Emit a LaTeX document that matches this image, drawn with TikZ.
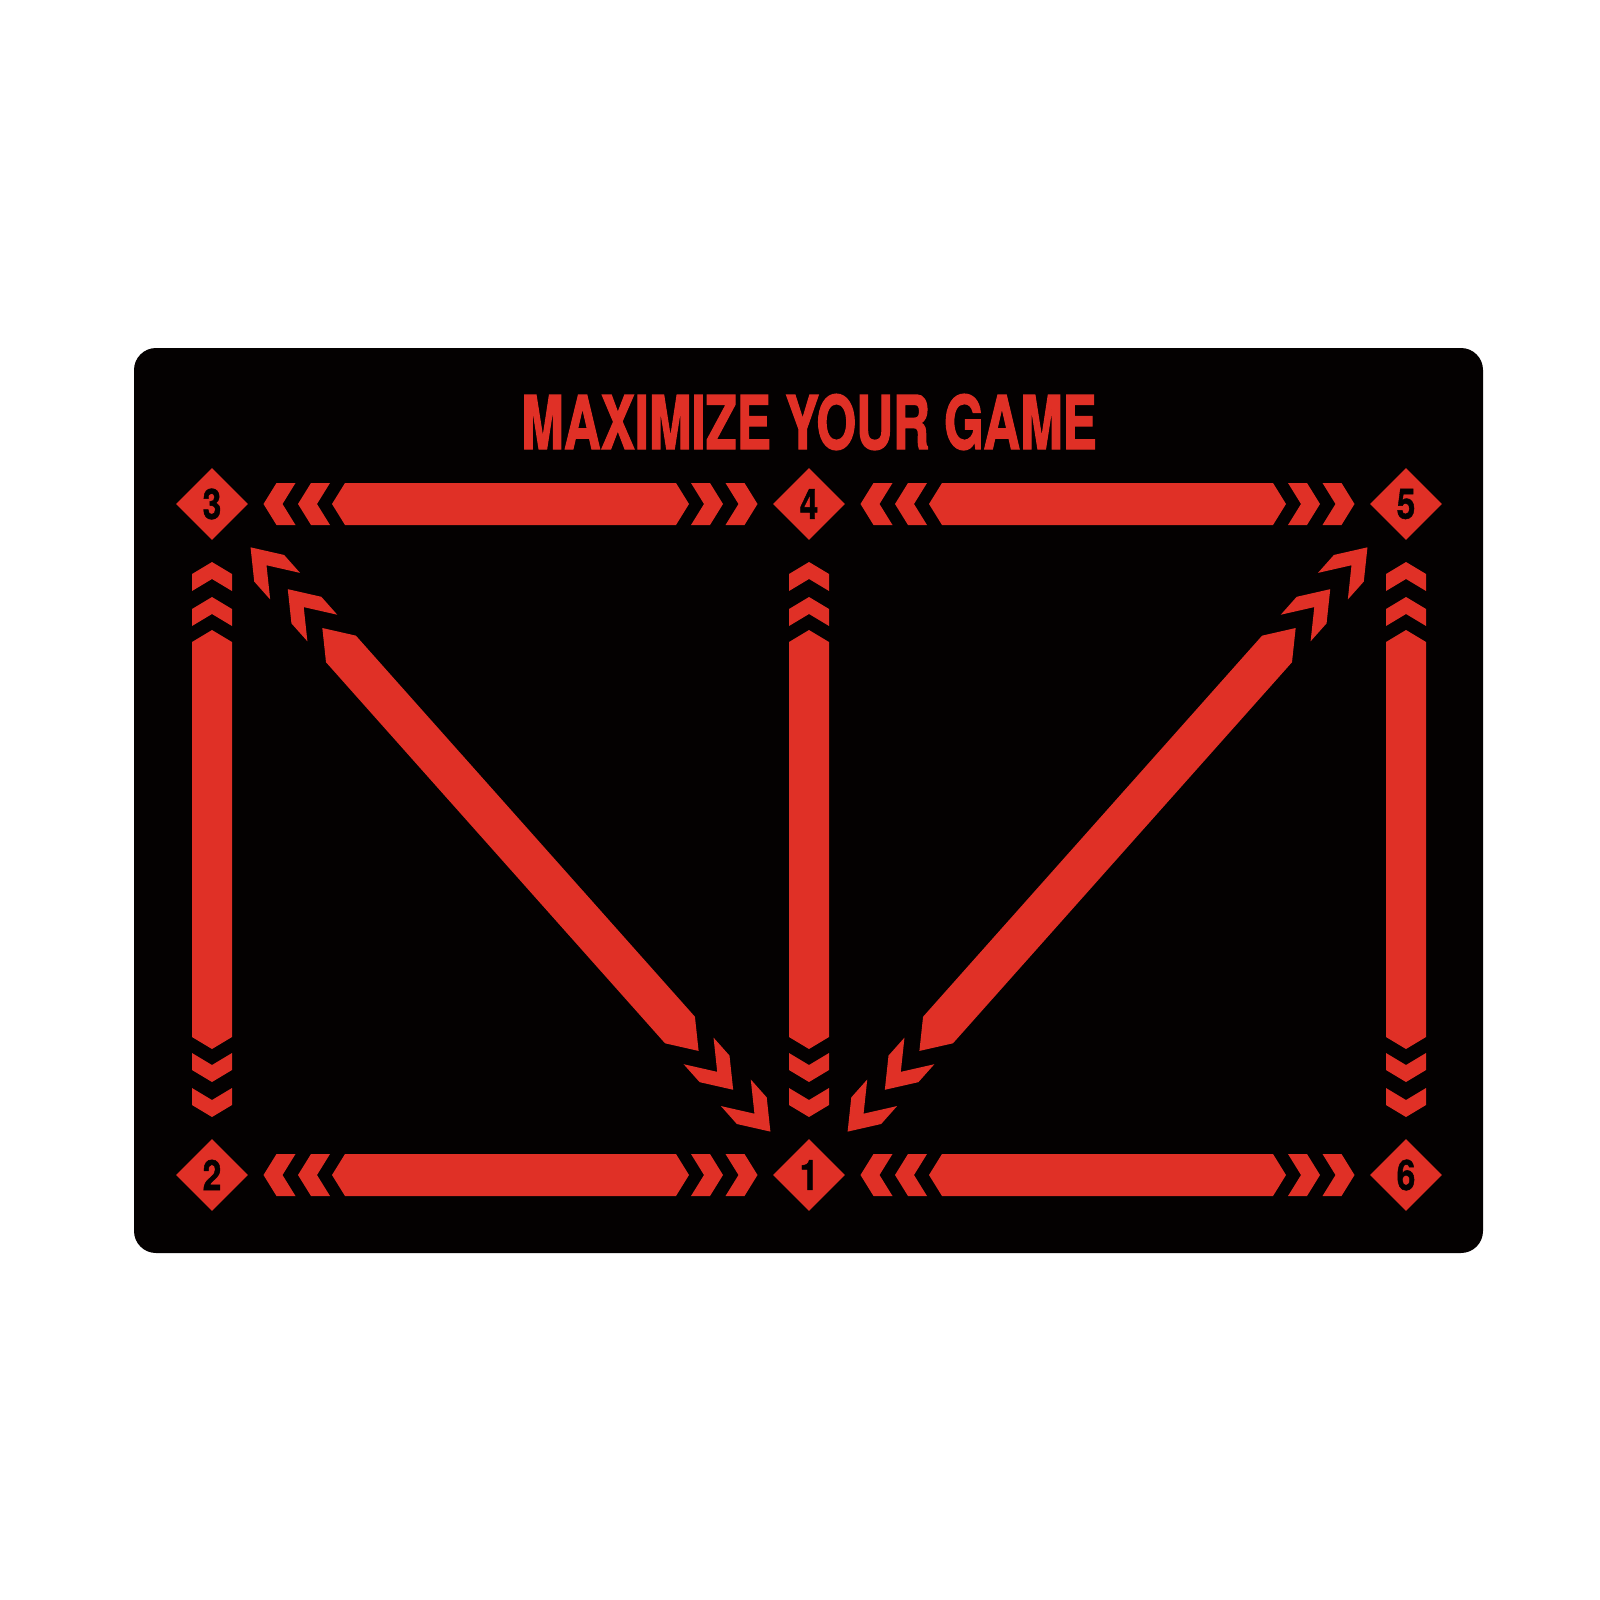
\documentclass[tikz,border=0pt]{standalone}
\usepackage{fontspec}
\usetikzlibrary{shapes.geometric,calc}

\newfontfamily\titlefont{TeX Gyre Heros}[FakeBold=2]
\newfontfamily\numfont{TeX Gyre Heros}[FakeBold=1.2]

\definecolor{matred}{RGB}{224,48,38}
\definecolor{matblack}{RGB}{4,1,1}

\tikzset{
	spot/.style={diamond, aspect=1, fill=matred, minimum width=72pt, minimum height=72pt,
		inner sep=0pt, text=matblack, font=\numfont\bfseries\fontsize{42}{42}\selectfont},
	headline/.style={text=matred, inner sep=0pt, font=\titlefont\bfseries\fontsize{74}{74}\selectfont},
}

% narrow digits
\newcommand\spotnum[1]{\scalebox{0.8}[1]{#1}}

% one chevron pointing back to the start, tip at #1, slope #2, thickness #3, half width #4
\newcommand\chev[4]{\fill[matred] (#1,0) -- (#1+#2,#4) -- (#1+#2+#3,#4) -- (#1+#3,0)
	-- (#1+#2+#3,-#4) -- (#1+#2,-#4) -- cycle;}

% chevron 1, chevron 2, bar tip, slope, thickness, half width
\newcommand\runparams[6]{\def\cA{#1}\def\cB{#2}\def\bT{#3}\def\sA{#4}\def\sT{#5}\def\hW{#6}}

% bar with chevrons at both ends, from spot #1 to spot #2
\newcommand\matrun[2]{%
	\path let \p1=($(#2)-(#1)$) in \pgfextra{\pgfmathsetmacro\runang{atan2(\y1,\x1)}%
		\pgfmathsetmacro\runlen{veclen(\x1,\y1)}\global\let\runang\runang\global\let\runlen\runlen};
	\begin{scope}[shift={(#1)}, rotate=\runang]
		\chev{\cA}{\sA}{\sT}{\hW}
		\chev{\cB}{\sA}{\sT}{\hW}
		\begin{scope}[shift={(\runlen,0)}, xscale=-1]
			\chev{\cA}{\sA}{\sT}{\hW}
			\chev{\cB}{\sA}{\sT}{\hW}
		\end{scope}
		\fill[matred] (\bT,0) -- (\bT+\sA,\hW) -- (\runlen-\bT-\sA,\hW) -- (\runlen-\bT,0)
			-- (\runlen-\bT-\sA,-\hW) -- (\bT+\sA,-\hW) -- cycle;
	\end{scope}}

\begin{document}
\begin{tikzpicture}[x=1pt,y=-1pt]
	\useasboundingbox (0,0) rectangle (1600,1600);
	\fill[white] (0,0) rectangle (1600,1600);

	% the mat
	\fill[matblack, rounded corners=22pt] (134,348) rectangle (1483,1253);

	\node[headline, anchor=base] (title) at (809,449) {\scalebox{0.69}[1]{MAXIMIZE YOUR GAME}};

	% cones
	\node[spot] (d3) at (212,504) {\spotnum{3}};
	\node[spot] (d4) at (809,504) {\spotnum{4}};
	\node[spot] (d5) at (1406,504) {\spotnum{5}};
	\node[spot] (d2) at (212,1175) {\spotnum{2}};
	\node[spot] (d1) at (809,1175) {\spotnum{1}};
	\node[spot] (d6) at (1406,1175) {\spotnum{6}};

	% rows
	\runparams{51.5}{86}{120}{13}{19}{21}
	\matrun{d3}{d4}
	\matrun{d4}{d5}
	\matrun{d2}{d1}
	\matrun{d1}{d6}

	% columns
	\runparams{58}{93}{126}{12}{17}{20}
	\matrun{d3}{d2}
	\matrun{d4}{d1}
	\matrun{d5}{d6}

	% diagonals
	\runparams{58}{114}{166}{28}{24}{20}
	\matrun{d3}{d1}
	\matrun{d5}{d1}
\end{tikzpicture}
\end{document}
